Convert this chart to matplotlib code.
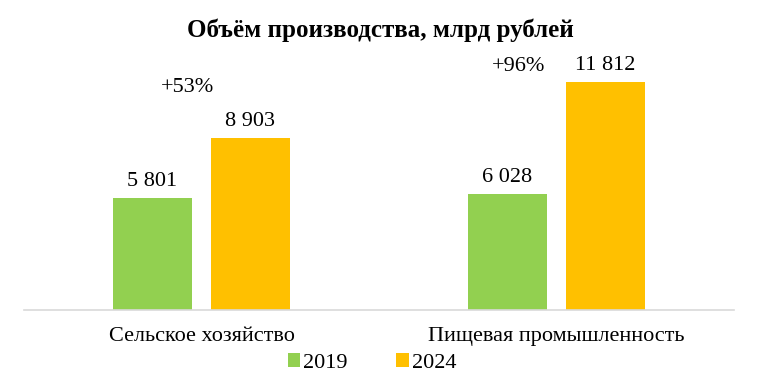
import matplotlib.pyplot as plt
import numpy as np

plt.rcParams['font.family'] = ['Liberation Serif', 'DejaVu Serif']

categories = ["Сельское хозяйство", "Пищевая промышленность"]
years = ["2019", "2024"]
values_2019 = [5801, 6028]
values_2024 = [8903, 11812]
growth_labels = ["+53%", "+96%"]
value_labels_2019 = ["5 801", "6 028"]
value_labels_2024 = ["8 903", "11 812"]

green = "#92D050"
orange = "#FFC000"

fig = plt.figure(figsize=(7.6, 3.74), dpi=100)
ax = fig.add_axes([24 / 760, 64 / 374, 710 / 760, 270 / 374])

x = np.arange(len(categories))
w = 0.225
off = 0.138
b1 = ax.bar(x - off, values_2019, width=w, color=green, label=years[0])
b2 = ax.bar(x + off, values_2024, width=w, color=orange, label=years[1])

for bars, labels in [(b1, value_labels_2019), (b2, value_labels_2024)]:
    for bar, lab in zip(bars, labels):
        ax.annotate(lab, (bar.get_x() + bar.get_width() / 2, bar.get_height()),
                    xytext=(0, 5), textcoords="offset points",
                    ha="center", va="bottom", fontsize=16)

# growth annotations
growth_x = [-0.04, -0.106]
growth_y = [11550, 12640]
for gx, gy, lab, xi in zip(growth_x, growth_y, growth_labels, x):
    ax.text(xi + gx, gy, lab, ha="center", va="center", fontsize=16)

ax.set_xlim(-0.5, 1.5)
ax.set_ylim(0, 14000)
ax.set_xticks(x)
ax.set_xticklabels(categories, fontsize=16)
ax.tick_params(axis="x", length=0, pad=12)
ax.set_yticks([])
for s in ["top", "right", "left"]:
    ax.spines[s].set_visible(False)
ax.spines["bottom"].set_color("#d9d9d9")
ax.spines["bottom"].set_linewidth(1.2)

fig.text(0.5, 1 - 30 / 374, "Объём производства, млрд рублей",
         ha="center", va="center", fontsize=18, fontweight="bold")

fig.legend(loc="center", bbox_to_anchor=(372 / 760, 1 - 363 / 374), ncol=2,
           frameon=False, fontsize=16, handlelength=0.55, handleheight=0.55,
           handletextpad=0.15, columnspacing=2.2, borderaxespad=0)

fig.savefig("out.png", dpi=100)
